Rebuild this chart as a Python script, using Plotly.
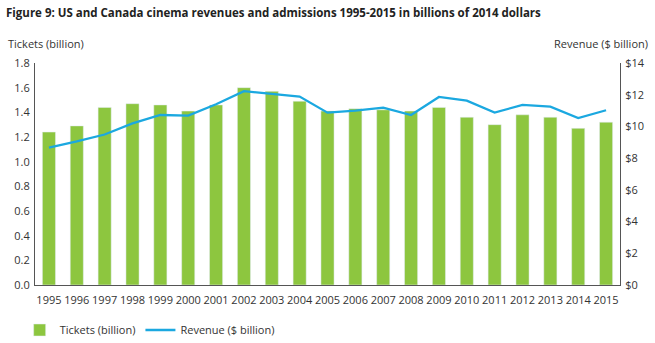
import plotly.graph_objects as go

years = [str(y) for y in range(1995, 2016)]
tickets = [1.24, 1.29, 1.44, 1.47, 1.46, 1.41, 1.46, 1.60, 1.57, 1.49, 1.41, 1.43, 1.42, 1.41,
           1.44, 1.36, 1.30, 1.38, 1.36, 1.27, 1.32]
revenue = [8.67, 9.05, 9.49, 10.19, 10.72, 10.68, 11.40, 12.22, 12.05, 11.88, 10.87, 11.00,
           11.19, 10.72, 11.86, 11.63, 10.87, 11.36, 11.25, 10.53, 11.02]

FONT = "Open Sans"
TXT = "#333333"
GREEN = "#8DC63F"
BLUE = "#1BA8E0"

fig = go.Figure()
fig.add_trace(go.Bar(x=years, y=tickets, name="Tickets (billion)", marker_color=GREEN,
                     yaxis="y"))
fig.add_trace(go.Scatter(x=years, y=revenue, name="Revenue ($ billion)", mode="lines",
                         line=dict(color=BLUE, width=2.3), yaxis="y2"))

fig.update_layout(
    width=655, height=343,
    margin=dict(l=35, r=35, t=63, b=58),
    paper_bgcolor="white", plot_bgcolor="white",
    font=dict(family=FONT, size=11, color=TXT),
    bargap=0.53,
    showlegend=True,
    legend=dict(orientation="h", x=0.03, xref="container", y=1 - 330 / 343,
                yref="container", yanchor="middle", xanchor="left",
                font=dict(size=11, color=TXT), tracegroupgap=0),
    xaxis=dict(type="category", range=[-0.5, 20.5], showline=True, linecolor="#555555",
               linewidth=1, ticks="", showgrid=False, ticklabelstandoff=5,
               automargin=False, tickfont=dict(size=11, color=TXT)),
    yaxis=dict(range=[0, 1.8], dtick=0.2, tickformat=".1f", showline=True,
               linecolor="#555555", linewidth=1, showgrid=False, zeroline=False,
               ticks="", ticklabelstandoff=2, automargin=False,
               tickfont=dict(size=11, color=TXT)),
    yaxis2=dict(range=[0, 14], dtick=2, tickprefix="$", overlaying="y", side="right",
                showline=True, linecolor="#555555", linewidth=1, showgrid=False,
                zeroline=False, ticks="", ticklabelstandoff=2, automargin=False,
                tickfont=dict(size=11, color=TXT)),
    annotations=[
        dict(text="<b>Figure 9: US and Canada cinema revenues and admissions 1995-2015 in billions of 2014 dollars</b>",
             xref="paper", yref="paper", x=-0.053, y=1.0, yshift=51, xanchor="left",
             yanchor="middle", showarrow=False, font=dict(size=11.5, color="#222222")),
        dict(text="Tickets (billion)", xref="paper", yref="paper", x=-0.05, y=1.0,
             yshift=20, xanchor="left", yanchor="middle", showarrow=False,
             font=dict(size=11, color=TXT)),
        dict(text="Revenue ($ billion)", xref="paper", yref="paper", x=1.0, xshift=30, y=1.0,
             yshift=20, xanchor="right", yanchor="middle", showarrow=False,
             font=dict(size=11, color=TXT)),
    ],
)

fig.write_html("out.html")
